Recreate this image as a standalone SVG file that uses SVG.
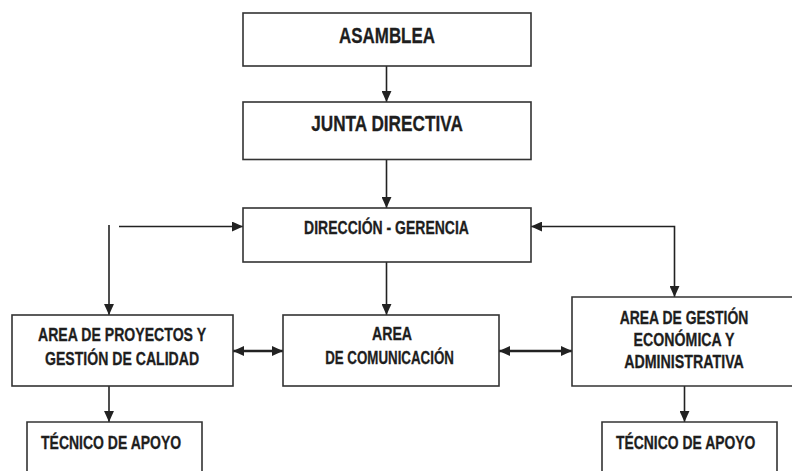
<svg xmlns="http://www.w3.org/2000/svg" width="792" height="471" viewBox="0 0 792 471">
<style>
.box{fill:#fff;stroke:#333;stroke-width:1.6}
.t{font-family:"Liberation Sans",Arial,sans-serif;font-weight:bold;fill:#1e1e1e;stroke:#1e1e1e;stroke-width:0.3;font-size:19px}
.big{font-size:22px}
.c{fill:none;stroke:#222;stroke-width:1.6}
.d{fill:none;stroke:#222;stroke-width:2.4}
</style>
<defs>
<marker id="ah" viewBox="0 0 10 9" refX="10" refY="4.5" markerWidth="11" markerHeight="10" markerUnits="userSpaceOnUse" orient="auto-start-reverse">
<path d="M0,0 L10,4.5 L0,9 Z" fill="#222"/>
</marker>
</defs>
<rect width="792" height="471" fill="#fff"/>
<g id="connectors">
<line class="c" x1="386.5" y1="66" x2="386.5" y2="102" marker-end="url(#ah)"/>
<line class="c" x1="386.5" y1="160" x2="386.5" y2="208" marker-end="url(#ah)"/>
<line class="c" x1="386.5" y1="262" x2="386.5" y2="315" marker-end="url(#ah)"/>
<line class="c" x1="119" y1="226.5" x2="243" y2="226.5" marker-end="url(#ah)"/>
<line class="c" x1="109" y1="225" x2="109" y2="315" marker-end="url(#ah)"/>
<polyline class="c" points="674.5,297 674.5,226.5 531,226.5" marker-start="url(#ah)" marker-end="url(#ah)"/>
<line class="d" x1="233" y1="351" x2="283" y2="351" marker-start="url(#ah)" marker-end="url(#ah)"/>
<line class="d" x1="499" y1="351" x2="572" y2="351" marker-start="url(#ah)" marker-end="url(#ah)"/>
<line class="c" x1="109" y1="386" x2="109" y2="422" marker-end="url(#ah)"/>
<line class="c" x1="684.5" y1="386" x2="684.5" y2="422" marker-end="url(#ah)"/>
</g>
<g id="asamblea">
<rect class="box" x="243" y="13" width="288" height="53"/>
<text class="t big" transform="translate(387,43) scale(0.82,1)" text-anchor="middle" textLength="117" lengthAdjust="spacingAndGlyphs">ASAMBLEA</text>
</g>
<g id="junta">
<rect class="box" x="243" y="102" width="288" height="57.5"/>
<text class="t big" transform="translate(387,131) scale(0.82,1)" text-anchor="middle" textLength="185" lengthAdjust="spacingAndGlyphs">JUNTA DIRECTIVA</text>
</g>
<g id="direccion">
<rect class="box" x="243" y="208" width="288" height="54"/>
<text class="t" transform="translate(386.5,234) scale(0.82,1)" text-anchor="middle" textLength="201" lengthAdjust="spacingAndGlyphs">DIRECCIÓN - GERENCIA</text>
</g>
<g id="proyectos">
<rect class="box" x="12" y="315" width="221" height="71"/>
<text class="t" transform="translate(122,341) scale(0.82,1)" text-anchor="middle" textLength="205" lengthAdjust="spacingAndGlyphs">AREA DE PROYECTOS Y</text>
<text class="t" transform="translate(122,365) scale(0.82,1)" text-anchor="middle" textLength="188" lengthAdjust="spacingAndGlyphs">GESTIÓN DE CALIDAD</text>
</g>
<g id="comunicacion">
<rect class="box" x="283" y="315" width="216" height="71"/>
<text class="t" transform="translate(392,340) scale(0.82,1)" text-anchor="middle" textLength="49" lengthAdjust="spacingAndGlyphs">AREA</text>
<text class="t" transform="translate(389.5,364) scale(0.82,1)" text-anchor="middle" textLength="157" lengthAdjust="spacingAndGlyphs">DE COMUNICACIÓN</text>
</g>
<g id="gestion">
<path class="box" d="M792,297 H572 V386 H792"/>
<text class="t" transform="translate(684,324) scale(0.82,1)" text-anchor="middle" textLength="157" lengthAdjust="spacingAndGlyphs">AREA DE GESTIÓN</text>
<text class="t" transform="translate(684,346) scale(0.82,1)" text-anchor="middle" textLength="123" lengthAdjust="spacingAndGlyphs">ECONÓMICA Y</text>
<text class="t" transform="translate(684,368) scale(0.82,1)" text-anchor="middle" textLength="146" lengthAdjust="spacingAndGlyphs">ADMINISTRATIVA</text>
</g>
<g id="tecnico1">
<path class="box" d="M27,471 V422 H202 V471"/>
<text class="t" transform="translate(41,449) scale(0.82,1)" textLength="171" lengthAdjust="spacingAndGlyphs">TÉCNICO DE APOYO</text>
</g>
<g id="tecnico2">
<path class="box" d="M602,471 V422 H777 V471"/>
<text class="t" transform="translate(616,449) scale(0.82,1)" textLength="170" lengthAdjust="spacingAndGlyphs">TÉCNICO DE APOYO</text>
</g>
</svg>
